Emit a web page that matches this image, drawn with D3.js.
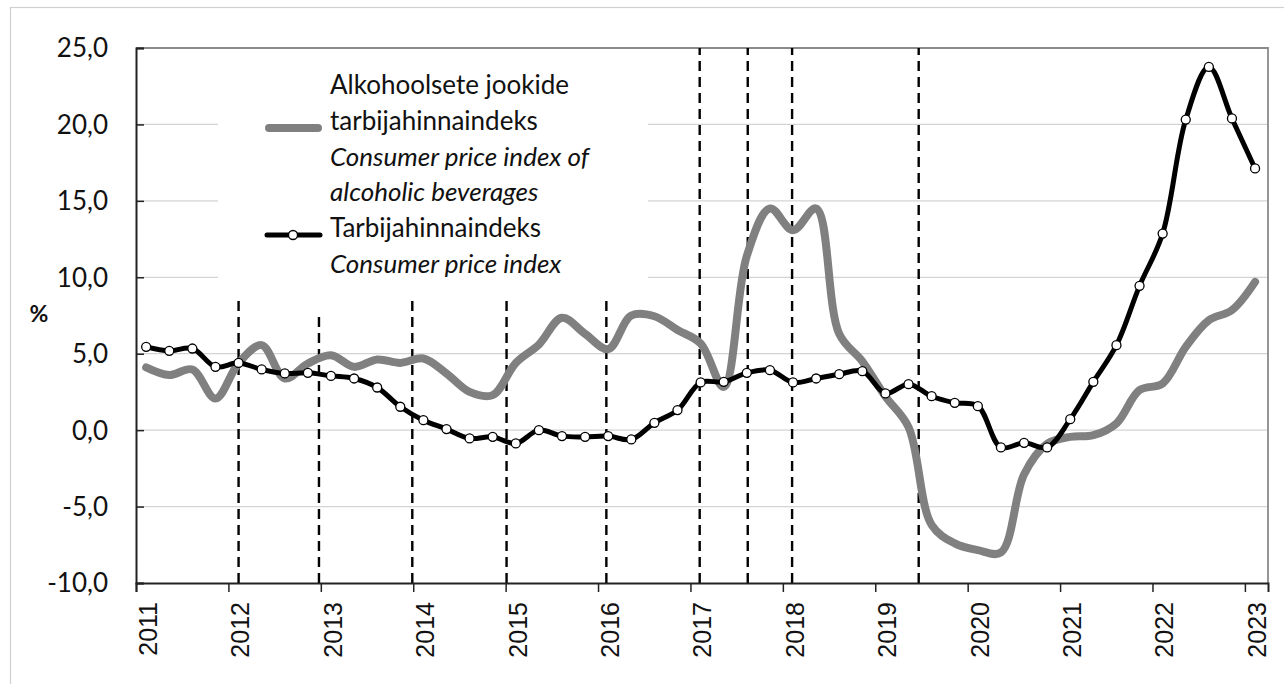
<!DOCTYPE html>
<html>
<head>
<meta charset="utf-8">
<script src="https://cdn.jsdelivr.net/npm/d3@7"></script>
<style>
    body { margin: 0; background: #fff; }
    svg { display: block; }
</style>
</head>
<body>
<div id="chart"></div>
<script>
// Quarterly data, 2011 Q1 .. 2023 Q1
const years = [2011, 2012, 2013, 2014, 2015, 2016, 2017, 2018, 2019, 2020, 2021, 2022, 2023];
const quarterYears = d3.range(2011, 2023).flatMap(y => [y, y, y, y]).concat([2023]);
const quarterNums = quarterYears.map((y, i) => i % 4 + 1);

// Alcoholic beverages CPI (%)
const alcohol = [
    4.10, 3.60, 3.97, 2.07,
    4.38, 5.56, 3.38, 4.36,
    4.90, 4.14, 4.62, 4.40,
    4.69, 3.71, 2.50, 2.29,
    4.40, 5.60, 7.35, 6.30,
    5.30, 7.50, 7.45, 6.55,
    5.67, 2.83, 11.40, 14.50,
    13.08, 14.50, 6.30, 4.50,
    2.20, 0.20, -6.20, -7.41,
    -7.85, -8.00, -2.90, -0.90,
    -0.44, -0.33, 0.44, 2.62,
    3.05, 5.45, 7.19, 7.85,
    9.70
];

// Consumer price index (%)
const cpi = [
    5.45, 5.19, 5.34, 4.14,
    4.40, 3.97, 3.71, 3.75,
    3.55, 3.38, 2.79, 1.53,
    0.65, 0.07, -0.54, -0.44,
    -0.87, 0.00, -0.39, -0.44,
    -0.39, -0.61, 0.48, 1.31,
    3.12, 3.16, 3.75, 3.92,
    3.12, 3.38, 3.66, 3.86,
    2.40, 3.01, 2.22, 1.79,
    1.57, -1.13, -0.83, -1.13,
    0.72, 3.16, 5.56, 9.44,
    12.86, 20.32, 23.76, 20.39,
    17.12
];

// Dashed markers (decimal year, top value)
const markerDates = [2012.11, 2012.98, 2013.99, 2015.01, 2016.09, 2017.10, 2017.62, 2018.10, 2019.47];
const markerTops = [8.5, 7.8, 8.5, 8.6, 8.5, 25, 25, 25, 25];

const yTicks = [-10, -5, 0, 5, 10, 15, 20, 25];

const legendLines = [
    { text: "Alkohoolsete jookide", italic: false },
    { text: "tarbijahinnaindeks", italic: false },
    { text: "Consumer price index of", italic: true },
    { text: "alcoholic beverages", italic: true },
    { text: "Tarbijahinnaindeks", italic: false },
    { text: "Consumer price index", italic: true }
];

const W = 1284, H = 684;
const plot = { left: 136, right: 1268, top: 48, bottom: 583 };
const font = "Lato, 'Open Sans', sans-serif";

const svg = d3.select("#chart")
    .append("svg")
    .attr("width", W)
    .attr("height", H);

// outer chart frame
svg.append("rect")
    .attr("x", 10.5)
    .attr("y", 7.5)
    .attr("width", W)
    .attr("height", H)
    .attr("fill", "#fff")
    .attr("stroke", "#d0d0d0")
    .attr("stroke-width", 1.2);

const x = d3.scaleLinear()
    .domain([2011, 2023.25])
    .range([plot.left, plot.right]);

const y = d3.scaleLinear()
    .domain([-10, 25])
    .range([plot.bottom, plot.top]);

const qx = i => x(quarterYears[i] + (quarterNums[i] - 1) * 0.25 + 0.11);

const locale = d3.formatLocale({ decimal: ",", thousands: " ", grouping: [3], currency: ["", ""], minus: "-" });
const fmt = locale.format(".1f");

// gridlines
svg.append("g")
    .selectAll("line")
    .data(yTicks.filter(d => d > -10 && d < 25))
    .enter()
    .append("line")
    .attr("x1", plot.left)
    .attr("x2", plot.right)
    .attr("y1", d => y(d))
    .attr("y2", d => y(d))
    .attr("stroke", "#d4d4d4")
    .attr("stroke-width", 1.2);

// plot frame (top, right)
svg.append("path")
    .attr("d", `M${plot.left},${plot.top}H${plot.right}V${plot.bottom}`)
    .attr("fill", "none")
    .attr("stroke", "#8a8a8a")
    .attr("stroke-width", 1.8);

// legend background (covers gridlines)
svg.append("rect")
    .attr("x", 218)
    .attr("y", 58)
    .attr("width", 430)
    .attr("height", 232)
    .attr("fill", "#fff");

// dashed vertical markers
svg.append("g")
    .selectAll("line")
    .data(markerDates)
    .enter()
    .append("line")
    .attr("x1", d => x(d))
    .attr("x2", d => x(d))
    .attr("y1", y(-10))
    .attr("y2", (d, i) => y(markerTops[i]))
    .attr("stroke", "#000")
    .attr("stroke-width", 2.4)
    .attr("stroke-dasharray", "10,6");

// y axis
const yAxis = svg.append("g")
    .attr("transform", `translate(${plot.left},0)`)
    .call(d3.axisRight(y).tickValues(yTicks).tickSize(8).tickFormat(""));
yAxis.select(".domain").attr("stroke", "#222").attr("stroke-width", 2);
yAxis.selectAll(".tick line").attr("stroke", "#222").attr("stroke-width", 1.5);

svg.append("g")
    .selectAll("text")
    .data(yTicks)
    .enter()
    .append("text")
    .attr("x", 108)
    .attr("y", d => y(d))
    .attr("dy", "0.36em")
    .attr("text-anchor", "end")
    .style("font-family", font)
    .style("font-size", "26px")
    .style("fill", "#111")
    .text(d => fmt(d));

svg.append("text")
    .attr("x", 39)
    .attr("y", 314)
    .attr("dy", "0.36em")
    .attr("text-anchor", "middle")
    .style("font-family", font)
    .style("font-size", "23px")
    .style("font-weight", "bold")
    .style("fill", "#111")
    .text("%");

// x axis
const xAxis = svg.append("g")
    .attr("transform", `translate(0,${plot.bottom})`)
    .call(d3.axisBottom(x).tickValues(years).tickSize(9).tickFormat(""));
xAxis.select(".domain").attr("stroke", "#222").attr("stroke-width", 2);
xAxis.selectAll(".tick line").attr("stroke", "#222").attr("stroke-width", 1.5);

svg.append("g")
    .selectAll("text")
    .data(years)
    .enter()
    .append("text")
    .attr("transform", d => `translate(${x(d) + 12},602) rotate(-90)`)
    .attr("dy", "0.36em")
    .attr("text-anchor", "end")
    .style("font-family", "'Liberation Sans', Arial, sans-serif")
    .style("font-size", "25px")
    .style("fill", "#111")
    .text(d => d);

// series
const line = d3.line()
    .x((d, i) => qx(i))
    .y(d => y(d))
    .curve(d3.curveCatmullRom.alpha(0.5));

svg.append("path")
    .datum(alcohol)
    .attr("fill", "none")
    .attr("stroke", "#808080")
    .attr("stroke-width", 8)
    .attr("stroke-linejoin", "round")
    .attr("stroke-linecap", "round")
    .attr("d", line);

svg.append("path")
    .datum(cpi)
    .attr("fill", "none")
    .attr("stroke", "#000")
    .attr("stroke-width", 5)
    .attr("stroke-linejoin", "round")
    .attr("d", line);

svg.append("g")
    .selectAll("circle")
    .data(cpi)
    .enter()
    .append("circle")
    .attr("cx", (d, i) => qx(i))
    .attr("cy", d => y(d))
    .attr("r", 4.5)
    .attr("fill", "#fff")
    .attr("stroke", "#000")
    .attr("stroke-width", 1.3);

// legend
const legend = svg.append("g");

legend.append("line")
    .attr("x1", 269).attr("x2", 318)
    .attr("y1", 128).attr("y2", 128)
    .attr("stroke", "#808080")
    .attr("stroke-width", 8)
    .attr("stroke-linecap", "round");

legend.append("line")
    .attr("x1", 267).attr("x2", 320)
    .attr("y1", 235).attr("y2", 235)
    .attr("stroke", "#000")
    .attr("stroke-width", 5)
    .attr("stroke-linecap", "round");

legend.append("circle")
    .attr("cx", 293).attr("cy", 235)
    .attr("r", 4.5)
    .attr("fill", "#fff")
    .attr("stroke", "#000")
    .attr("stroke-width", 1.3);

legend.selectAll("text")
    .data(legendLines)
    .enter()
    .append("text")
    .attr("x", 330)
    .attr("y", (d, i) => 94 + i * 35.8)
    .style("font-family", font)
    .style("font-size", "26px")
    .style("font-style", d => d.italic ? "italic" : "normal")
    .style("fill", "#111")
    .text(d => d.text);
</script>
</body>
</html>
